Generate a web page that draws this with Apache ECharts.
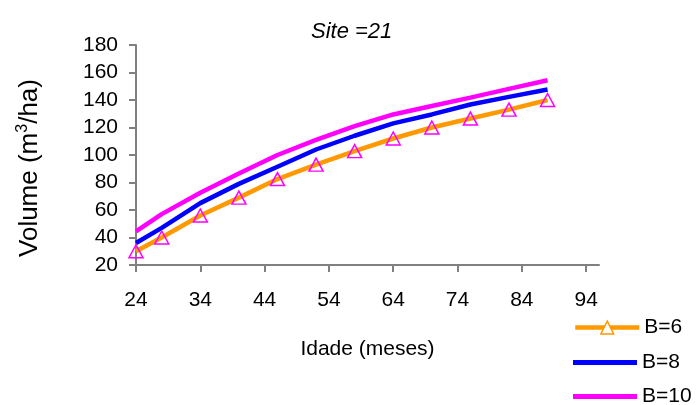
<!DOCTYPE html>
<html>
<head>
<meta charset="utf-8">
<script src="https://cdn.jsdelivr.net/npm/echarts@6/dist/echarts.min.js"></script>
<style>
  html, body { margin: 0; padding: 0; background: #fff; }
  #chart1 { width: 700px; height: 405px; }
</style>
</head>
<body>
<div id="chart1"></div>
<script>
const ages = [24, 28, 34, 40, 46, 52, 58, 64, 70, 76, 82, 88];
const b6 = [30, 40, 56, 69, 82.5, 93, 102.8, 112, 120, 126.5, 133, 140];
const b8 = [36, 47, 65, 79, 91.5, 104, 114, 123, 129.5, 136.7, 142.3, 147.6];
const b10 = [44.5, 57, 72.5, 86.5, 100, 111, 121, 129.5, 135.6, 141.7, 148.1, 154.4];
const xTicks = [24, 34, 44, 54, 64, 74, 84, 94];

const font = 'Liberation Sans, Arial, sans-serif';
const chart1 = echarts.init(document.getElementById('chart1'));

function pairs(ys) {
  return ages.map((a, i) => [a, ys[i]]);
}

const legendText = { fontFamily: font, fontSize: 21, color: '#000' };

const option = {
  animation: false,
  textStyle: { fontFamily: font, color: '#000' },
  title: {
    text: 'Site =21',
    left: 306,
    top: 16,
    textStyle: { fontFamily: font, fontStyle: 'italic', fontWeight: 'normal', fontSize: 22, color: '#000' }
  },
  grid: { left: 136, right: 101, top: 45, bottom: 140 },
  legend: [
    {
      left: 573, top: 317, padding: 0, itemWidth: 64, itemHeight: 16,
      textStyle: legendText,
      lineStyle: { width: 4.5 },
      itemStyle: { color: '#fff', borderColor: '#FF9900', borderWidth: 1.5 },
      data: ['B=6']
    },
    {
      left: 573, top: 352, padding: 0, itemWidth: 64, itemHeight: 5, icon: 'rect',
      textStyle: legendText,
      data: ['B=8']
    },
    {
      left: 573, top: 386, padding: 0, itemWidth: 64, itemHeight: 5, icon: 'rect',
      textStyle: legendText,
      data: ['B=10']
    }
  ],
  xAxis: {
    type: 'value',
    min: 24,
    max: 96,
    interval: 10,
    name: 'Idade (meses)',
    nameLocation: 'middle',
    nameGap: 74,
    nameTextStyle: { fontFamily: font, fontSize: 21, color: '#000' },
    splitLine: { show: false },
    axisLine: { lineStyle: { color: '#808080', width: 2 } },
    axisTick: { show: true, length: 7, lineStyle: { color: '#808080', width: 2 }, customValues: xTicks },
    axisLabel: { fontFamily: font, fontSize: 21, color: '#000', margin: 25, customValues: xTicks }
  },
  yAxis: {
    type: 'value',
    min: 20,
    max: 180,
    interval: 20,
    name: 'Volume (m{sup|3}/ha)',
    nameLocation: 'middle',
    nameRotate: 90,
    nameGap: 92,
    nameTextStyle: {
      fontFamily: font, fontSize: 26, color: '#000',
      padding: [0, 26, 0, 0],
      rich: { sup: { fontFamily: font, fontSize: 16, color: '#000', verticalAlign: 'top', padding: [0, 0, 13, 0] } }
    },
    splitLine: { show: false },
    axisLine: { show: true, lineStyle: { color: '#808080', width: 2 } },
    axisTick: { show: true, length: 7, lineStyle: { color: '#808080', width: 2 } },
    axisLabel: { fontFamily: font, fontSize: 21, color: '#000', margin: 18 }
  },
  series: [
    {
      name: 'B=6',
      type: 'line',
      data: pairs(b6),
      symbol: 'triangle',
      symbolSize: [14, 13],
      showAllSymbol: true,
      lineStyle: { color: '#FF9900', width: 4.5 },
      itemStyle: { color: 'rgba(255,255,255,0)', borderColor: '#FF00FF', borderWidth: 1.5 },
      z: 3
    },
    {
      name: 'B=8',
      type: 'line',
      data: pairs(b8),
      symbol: 'none',
      lineStyle: { color: '#0000FF', width: 4.5 },
      itemStyle: { color: '#0000FF' },
      z: 2
    },
    {
      name: 'B=10',
      type: 'line',
      data: pairs(b10),
      symbol: 'none',
      lineStyle: { color: '#FF00FF', width: 4.5 },
      itemStyle: { color: '#FF00FF' },
      z: 2
    }
  ]
};

chart1.setOption(option);
</script>
</body>
</html>
